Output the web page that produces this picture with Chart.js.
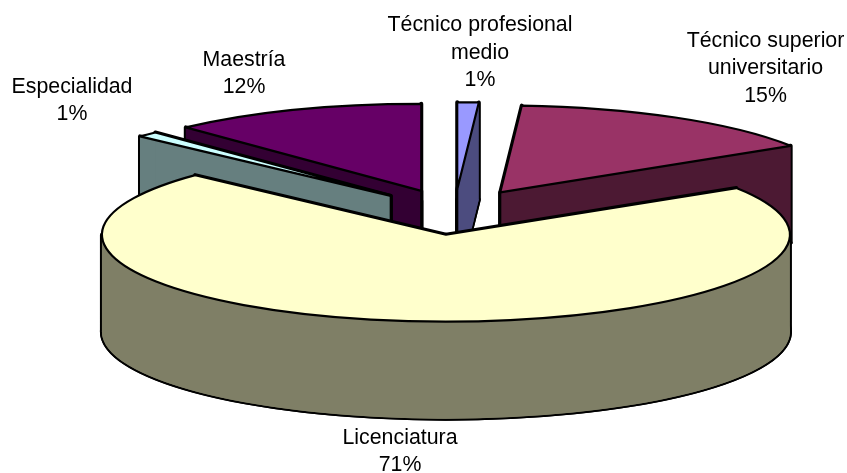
<!DOCTYPE html>
<html>
<head>
<meta charset="utf-8">
<style>
html, body { margin: 0; padding: 0; background: #fff; }
canvas { display: block; }
</style>
<script src="https://cdn.jsdelivr.net/npm/chart.js@4"></script>
</head>
<body>
<canvas id="pieChart" width="847" height="473"></canvas>
<script>
// DATA
var categories = ["Técnico profesional medio", "Técnico superior universitario", "Licenciatura", "Especialidad", "Maestría"];
var percents = [1, 15, 71, 1, 12];

// STYLE
var topColors = ["#9999FF", "#993366", "#FFFFCC", "#CCFFFF", "#660066"];
var wallColors = ["#4C4C7F", "#4C1933", "#7F7F66", "#667F7F", "#330033"];
var labelLines = [["Técnico profesional", "medio"], ["Técnico superior", "universitario"], ["Licenciatura"], ["Especialidad"], ["Maestría"]];
var labelSpots = [[480, 25.5], [765.5, 41], [400, 438], [72, 87], [244, 60]];

var centerX = 454.4, centerY = 212;
var radiusX = 344, radiusY = 87;
var depth = 97;
var explode = 90 / 344; // share of the radius

function sliceTip(arc) {
    var mid = (arc.startAngle + arc.endAngle) / 2;
    return [centerX + Math.cos(mid) * explode * radiusX, centerY + Math.sin(mid) * explode * radiusY];
}

// one slice outline, in screen pixels
function slicePath(ctx, arc, dy) {
    var tip = sliceTip(arc);
    ctx.beginPath();
    ctx.moveTo(tip[0], tip[1] + dy);
    ctx.ellipse(tip[0], tip[1] + dy, radiusX, radiusY, 0, arc.startAngle, arc.endAngle);
    ctx.closePath();
}

// flat wall from the tip down along one cut of the slice
function cutWallPath(ctx, arc, angle) {
    var tip = sliceTip(arc);
    var x = tip[0] + Math.cos(angle) * radiusX, y = tip[1] + Math.sin(angle) * radiusY;
    ctx.beginPath();
    ctx.moveTo(tip[0], tip[1]);
    ctx.lineTo(x, y);
    ctx.lineTo(x, y + depth);
    ctx.lineTo(tip[0], tip[1] + depth);
    ctx.closePath();
}

// curved wall under the rim, only the front half of the ellipse can show
function rimWallPath(ctx, arc) {
    var tip = sliceTip(arc);
    var from = Math.max(arc.startAngle, 0), to = Math.min(arc.endAngle, Math.PI);
    ctx.beginPath();
    if (to <= from) {
        return;
    }
    ctx.ellipse(tip[0], tip[1], radiusX, radiusY, 0, from, to);
    ctx.ellipse(tip[0], tip[1] + depth, radiusX, radiusY, 0, to, from, true);
    ctx.closePath();
}

// let the arc element fill itself, squashed into the tilted plane
function fillArc(ctx, arc, color) {
    var tip = sliceTip(arc);
    var saved = arc.options;
    arc.options = Object.assign({}, saved, { backgroundColor: color, borderWidth: 0 });
    ctx.save();
    ctx.translate(tip[0], tip[1]);
    ctx.scale(radiusX / arc.outerRadius, radiusY / arc.outerRadius);
    ctx.translate(-arc.x, -arc.y);
    arc.draw(ctx);
    ctx.restore();
    arc.options = saved;
}

var tiltedPie = {
    id: "tiltedPie",
    beforeDatasetsDraw: function(chart) {
        var ctx = chart.ctx;
        var arcs = chart.getDatasetMeta(0).data.map(function(arc, i) {
            return { arc: arc, index: i };
        });
        // back slices first
        arcs.sort(function(a, b) {
            return Math.sin((a.arc.startAngle + a.arc.endAngle) / 2) - Math.sin((b.arc.startAngle + b.arc.endAngle) / 2);
        });
        ctx.save();
        ctx.strokeStyle = "#000";
        ctx.lineJoin = "round";
        arcs.forEach(function(item) {
            var arc = item.arc;
            var parts = [
                function() { slicePath(ctx, arc, depth); },
                function() { cutWallPath(ctx, arc, arc.startAngle); },
                function() { cutWallPath(ctx, arc, arc.endAngle); },
                function() { rimWallPath(ctx, arc); }
            ];
            // black silhouette first, the wall colour then leaves only its outer half
            ctx.lineWidth = 4;
            parts.forEach(function(part) {
                part();
                ctx.stroke();
            });
            ctx.fillStyle = wallColors[item.index];
            parts.forEach(function(part) {
                part();
                ctx.fill();
            });
            // edge below the tip, only on slices that show their inner walls
            var tip = sliceTip(arc);
            ctx.lineWidth = 2.2;
            if (Math.sin((arc.startAngle + arc.endAngle) / 2) < 0) {
                ctx.beginPath();
                ctx.moveTo(tip[0], tip[1]);
                ctx.lineTo(tip[0], tip[1] + depth);
                ctx.stroke();
            }
            fillArc(ctx, arc, topColors[item.index]);
            slicePath(ctx, arc, 0);
            ctx.stroke();
        });
        ctx.restore();
        return false;
    },
    afterDraw: function(chart) {
        var ctx = chart.ctx;
        ctx.save();
        ctx.font = "21.33px 'Liberation Sans', Arial, sans-serif";
        ctx.fillStyle = "#000";
        ctx.textAlign = "center";
        ctx.textBaseline = "middle";
        categories.forEach(function(name, i) {
            var lines = labelLines[i].concat(percents[i] + "%");
            lines.forEach(function(line, n) {
                ctx.fillText(line, labelSpots[i][0], labelSpots[i][1] + n * 27.5);
            });
        });
        ctx.restore();
    }
};

var pieChart = new Chart(document.getElementById("pieChart").getContext("2d"), {
    type: "pie",
    data: {
        labels: categories,
        datasets: [{
            data: percents,
            backgroundColor: topColors,
            borderWidth: 0
        }]
    },
    options: {
        animation: false,
        responsive: false,
        plugins: {
            legend: { display: false },
            tooltip: { enabled: false }
        }
    },
    plugins: [tiltedPie]
});
</script>
</body>
</html>
